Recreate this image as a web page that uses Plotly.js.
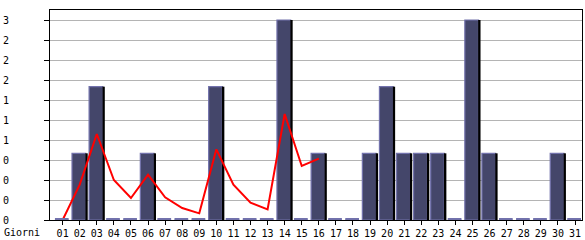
<!DOCTYPE html>
<html>
<head>
<meta charset="utf-8">
<script src="https://cdn.plot.ly/plotly-3.0.1.min.js"></script>
<style>html,body{margin:0;padding:0;background:#fff;}#chart{width:585px;height:240px;}</style>
</head>
<body>
<div id="chart"></div>
<script>
// Days of the month
var days = ["01","02","03","04","05","06","07","08","09","10","11","12","13","14","15","16",
            "17","18","19","20","21","22","23","24","25","26","27","28","29","30","31"];
// Daily counts (bars)
var counts = [0,1,2,0,0,1,0,0,0,2,0,0,0,3,0,1,0,0,1,2,1,1,1,0,3,1,0,0,0,1,0];
// Red trend line (first 16 days)
var trendDays = days.slice(0, 16);
var trend = [0,0.53,1.29,0.6,0.33,0.68,0.34,0.18,0.1,1.06,0.53,0.26,0.16,1.59,0.81,0.92];
// Y tick values and their labels
var yTickVals = [0,0.3,0.6,0.9,1.2,1.5,1.8,2.1,2.4,2.7,3.0];
var yTickText = ["0","0","0","0","1","1","1","2","2","2","3"];
var xAxisLabel = "Giorni";

var catPx = 532 / 31.15;
var mono = "DejaVu Sans Mono, Liberation Mono, monospace";
var edgeColor = "#7272ac";

var traces = [
  {
    type: "bar", x: days, y: counts,
    width: 13.7 / catPx, offset: -7.7 / catPx,
    marker: {color: "#44466a", line: {color: edgeColor, width: 1.2}},
    hoverinfo: "skip"
  },
  {
    type: "bar", x: days, y: counts,
    width: 2.4 / catPx, offset: 5.6 / catPx,
    marker: {color: "#000000", line: {width: 0}},
    hoverinfo: "skip"
  },
  {
    type: "scatter", mode: "lines", x: trendDays, y: trend,
    line: {color: "#ff0000", width: 2},
    hoverinfo: "skip"
  }
];

// zero-valued days are drawn as a flat sliver on the baseline
var shapes = [];
counts.forEach(function (v, i) {
  if (v === 0) {
    shapes.push({
      type: "rect", xref: "x", yref: "y", layer: "above",
      x0: i - 7.7 / catPx, x1: i + 6.0 / catPx,
      ysizemode: "pixel", yanchor: 0, y0: 0, y1: 2,
      fillcolor: edgeColor, line: {width: 0}
    });
  }
});

var layout = {
  width: 585, height: 240,
  margin: {l: 50, r: 3, t: 10, b: 20},
  paper_bgcolor: "#ffffff", plot_bgcolor: "#ffffff",
  showlegend: false,
  barmode: "overlay",
  font: {family: mono, size: 10, color: "#000"},
  xaxis: {
    type: "category", range: [-0.74, 30.41],
    showgrid: false, zeroline: false,
    showline: true, linecolor: "#000", linewidth: 1, mirror: true,
    ticks: "outside", ticklen: 4, tickcolor: "#000", tickwidth: 1,
    tickfont: {family: mono, size: 10, color: "#000"},
    fixedrange: true
  },
  yaxis: {
    range: [0, 3.15],
    tickmode: "array", tickvals: yTickVals, ticktext: yTickText,
    showgrid: true, gridcolor: "#b4b4b4", gridwidth: 1,
    zeroline: false,
    showline: true, linecolor: "#000", linewidth: 1, mirror: true,
    ticks: "outside", ticklen: 5, tickcolor: "#000", tickwidth: 1,
    ticklabelstandoff: 33,
    tickfont: {family: mono, size: 10, color: "#000"},
    fixedrange: true
  },
  shapes: shapes,
  annotations: [{
    text: xAxisLabel, xref: "paper", yref: "paper",
    x: -48 / 532, y: 0, xanchor: "left", yanchor: "top",
    yshift: -5, showarrow: false,
    font: {family: mono, size: 10, color: "#000"}
  }]
};

Plotly.newPlot("chart", traces, layout, {staticPlot: true, displayModeBar: false});
</script>
</body>
</html>
